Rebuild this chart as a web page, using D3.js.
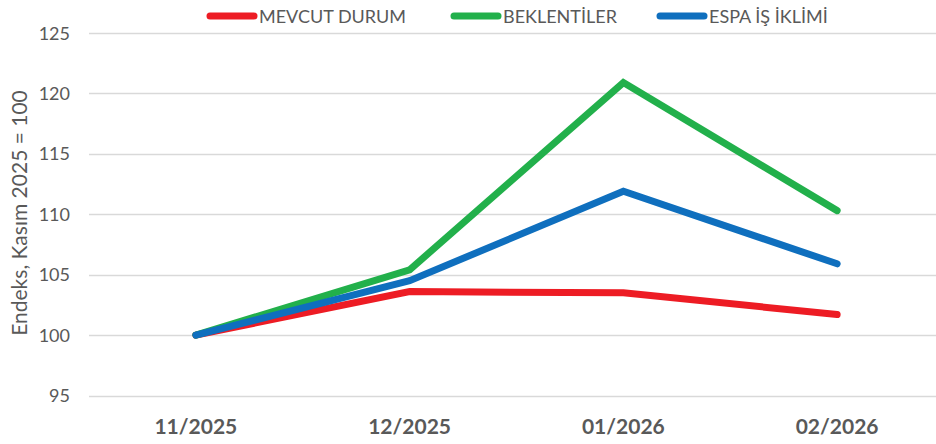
<!DOCTYPE html>
<meta charset="utf-8">
<style>
  body { margin: 0; background: #fff; }
  text { font-family: Lato, "Open Sans", sans-serif; }
</style>
<svg width="936" height="444" id="chart"></svg>
<script src="https://d3js.org/d3.v7.min.js"></script>
<script>

var months = ["11/2025", "12/2025", "01/2026", "02/2026"];
var mevcut = [100, 103.6, 103.5, 101.7];
var beklenti = [100, 105.4, 120.9, 110.3];
var espa = [100, 104.5, 111.9, 105.9];
var yTicks = [95, 100, 105, 110, 115, 120, 125];

var series = [
  {name: "MEVCUT DURUM", values: mevcut, color: "#ED1C24", lx: 207},
  {name: "BEKLENTİLER", values: beklenti, color: "#22B04B", lx: 451},
  {name: "ESPA İŞ İKLİMİ", values: espa, color: "#0F6FBE", lx: 657}
];

var svg = d3.select("#chart");

var x = d3.scaleBand().domain(months).range([89, 944]);
var y = d3.scaleLinear().domain([95, 125]).range([395.5, 33]);

// grid
svg.append("g").selectAll("line").data(yTicks).enter().append("line")
  .attr("x1", 89).attr("x2", 936)
  .attr("y1", d => Math.round(y(d)) + 0.5).attr("y2", d => Math.round(y(d)) + 0.5)
  .attr("stroke", "#d9d9d9").attr("stroke-width", 1.5);

// y labels
svg.append("g").selectAll("text").data(yTicks).enter().append("text")
  .attr("x", 70).attr("y", d => y(d) + 6.5)
  .attr("text-anchor", "end")
  .attr("font-size", 18).attr("fill", "#595959")
  .text(d => d);

// y title
svg.append("text")
  .attr("transform", "translate(27,213) rotate(-90)")
  .attr("text-anchor", "middle")
  .attr("font-size", 21).attr("fill", "#595959")
  .text("Endeks, Kasım 2025  = 100");

// x labels
svg.append("g").selectAll("text").data(months).enter().append("text")
  .attr("x", d => x(d) + x.bandwidth() / 2).attr("y", 434)
  .attr("text-anchor", "middle")
  .attr("font-size", 21).attr("font-weight", "bold").attr("fill", "#595959")
  .text(d => d);

var line = d3.line()
  .x((d, i) => x(months[i]) + x.bandwidth() / 2)
  .y(d => y(d));

svg.append("g").selectAll("path").data(series).enter().append("path")
  .attr("d", d => line(d.values))
  .attr("fill", "none")
  .attr("stroke", d => d.color)
  .attr("stroke-width", 7)
  .attr("stroke-linecap", "round")
  .attr("stroke-linejoin", "miter");

// legend
var leg = svg.append("g").selectAll("g").data(series).enter().append("g");
leg.append("line")
  .attr("x1", d => d.lx + 3).attr("x2", d => d.lx + 47)
  .attr("y1", 16).attr("y2", 16)
  .attr("stroke", d => d.color).attr("stroke-width", 7)
  .attr("stroke-linecap", "round");
leg.append("text")
  .attr("x", d => d.lx + 52).attr("y", 23)
  .attr("font-size", 18).attr("fill", "#595959")
  .text(d => d.name);

</script>
